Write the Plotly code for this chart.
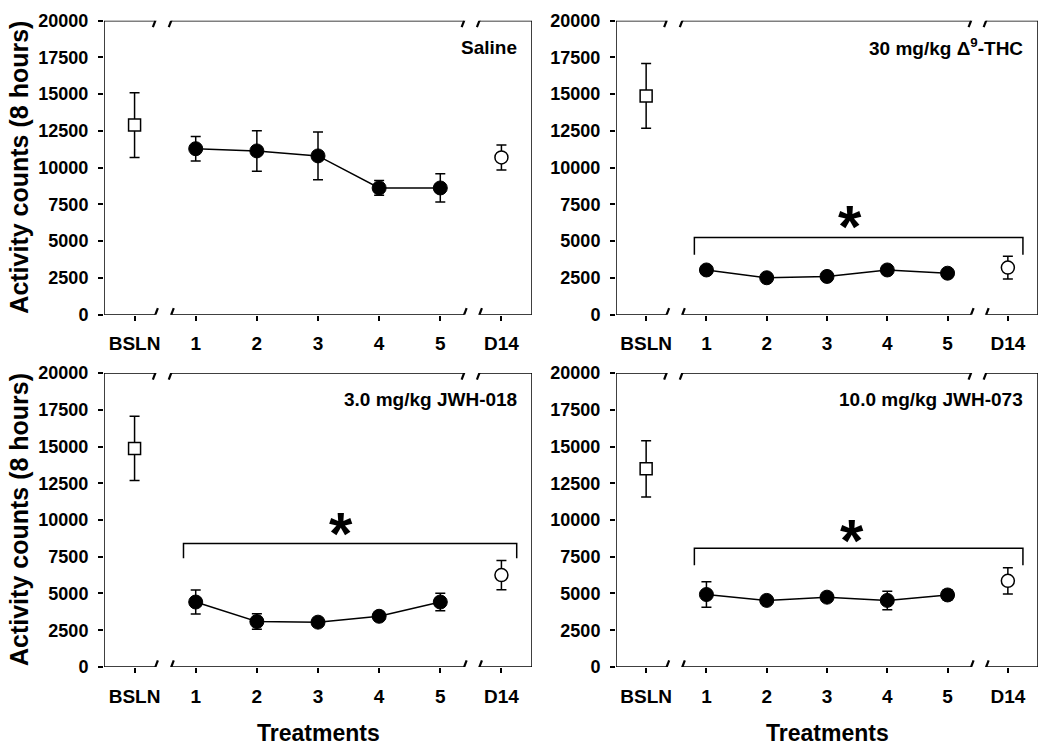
import plotly.graph_objects as go

# ---------------- data ----------------
categories = ["BSLN", "1", "2", "3", "4", "5", "D14"]
panel_labels = ["Saline", "30 mg/kg Δ<sup>9</sup>-THC", "3.0 mg/kg JWH-018", "10.0 mg/kg JWH-073"]

bsln_mean = [12900, 14880, 14870, 13480]
bsln_err = [2200, 2200, 2190, 1920]

treat_saline = [11290, 11140, 10800, 8620, 8620]
treat_saline_err = [830, 1380, 1620, 500, 960]
treat_thc = [3040, 2510, 2600, 3040, 2820]
treat_thc_err = [250, 200, 200, 250, 200]
treat_jwh018 = [4420, 3090, 3050, 3450, 4420]
treat_jwh018_err = [820, 530, 220, 220, 600]
treat_jwh073 = [4930, 4530, 4750, 4530, 4900]
treat_jwh073_err = [870, 220, 220, 630, 350]

d14_mean = [10700, 3200, 6250, 5860]
d14_err = [850, 770, 1000, 900]

# significance brackets (None for saline)
bracket_x = [0.8, 6.25]
bracket_top = [None, 5250, 8400, 8070]
bracket_leg = [None, 4080, 7400, 6920]
star_x = [None, 3.38, 3.37, 3.41]
star_y = [None, 6840, 9880, 9440]

y_ticks = [0, 2500, 5000, 7500, 10000, 12500, 15000, 17500, 20000]
y_ticktext = [str(v) for v in y_ticks]

treat_means = [treat_saline, treat_thc, treat_jwh018, treat_jwh073]
treat_errs = [treat_saline_err, treat_thc_err, treat_jwh018_err, treat_jwh073_err]

# ---------------- layout helpers ----------------
W, H = 1050, 749
FONT = "Liberation Sans, Arial, Helvetica, sans-serif"
x_domains = [(104 / W, 532 / W), (616 / W, 1038 / W)]
y_domains = [(1 - 313 / H, 1 - 11 / H), (1 - 675 / H, 1 - 373 / H)]
breaks = [(0.34, 0.60), (5.39, 5.64)]
XR = [-0.5, 6.5]
YR = [0, 20000]

fig = go.Figure()
shapes = []
annotations = []

for i in range(4):
    row, col = divmod(i, 2)
    n = i + 1
    xa = "x" if n == 1 else f"x{n}"
    ya = "y" if n == 1 else f"y{n}"
    xkey = "xaxis" if n == 1 else f"xaxis{n}"
    ykey = "yaxis" if n == 1 else f"yaxis{n}"

    fig.update_layout(**{
        xkey: dict(domain=list(x_domains[col]), anchor=ya, range=XR,
                   tickmode="array", tickvals=list(range(len(categories))), ticktext=categories,
                   ticks="outside", ticklen=5, tickwidth=1.5, tickcolor="black",
                   showline=False, showgrid=False, zeroline=False, ticklabelstandoff=7,
                   tickfont=dict(family=FONT, size=19, color="black", weight="bold")),
        ykey: dict(domain=list(y_domains[row]), anchor=xa, range=YR,
                   tickmode="array", tickvals=y_ticks, ticktext=y_ticktext,
                   ticks="outside", ticklen=5, tickwidth=1.5, tickcolor="black",
                   showline=False, showgrid=False, zeroline=False, ticklabelstandoff=6,
                   tickfont=dict(family=FONT, size=18, color="black", weight="bold")),
    })

    # baseline
    fig.add_trace(go.Scatter(
        x=[0], y=[bsln_mean[i]], xaxis=xa, yaxis=ya, mode="markers",
        marker=dict(symbol="square", size=12, color="white", line=dict(color="black", width=1.5)),
        error_y=dict(type="data", array=[bsln_err[i]], color="black", thickness=1.5, width=5),
        showlegend=False, hoverinfo="skip"))
    # treatments
    fig.add_trace(go.Scatter(
        x=[1, 2, 3, 4, 5], y=treat_means[i], xaxis=xa, yaxis=ya, mode="lines+markers",
        line=dict(color="black", width=1.5),
        marker=dict(symbol="circle", size=14, color="black", line=dict(color="black", width=1)),
        error_y=dict(type="data", array=treat_errs[i], color="black", thickness=1.5, width=5),
        showlegend=False, hoverinfo="skip"))
    # day 14
    fig.add_trace(go.Scatter(
        x=[6], y=[d14_mean[i]], xaxis=xa, yaxis=ya, mode="markers",
        marker=dict(symbol="circle", size=13, color="white", line=dict(color="black", width=1.5)),
        error_y=dict(type="data", array=[d14_err[i]], color="black", thickness=1.5, width=5),
        showlegend=False, hoverinfo="skip"))

    # bracket + star
    if bracket_top[i] is not None:
        fig.add_trace(go.Scatter(
            x=[bracket_x[0], bracket_x[0], bracket_x[1], bracket_x[1]],
            y=[bracket_leg[i], bracket_top[i], bracket_top[i], bracket_leg[i]],
            xaxis=xa, yaxis=ya, mode="lines", line=dict(color="black", width=1.5),
            showlegend=False, hoverinfo="skip"))
        annotations.append(dict(x=star_x[i], y=star_y[i], xref=xa, yref=ya, text="*",
                                showarrow=False, yanchor="middle", yshift=-12,
                                font=dict(family=FONT, size=60, color="black", weight="bold")))

    # frame: left / right full lines
    for xv in XR:
        shapes.append(dict(type="line", xref=xa, yref=ya, x0=xv, x1=xv, y0=YR[0], y1=YR[1],
                           line=dict(color="black", width=1.5)))
    # top / bottom with breaks
    segs = [(XR[0], breaks[0][0]), (breaks[0][1], breaks[1][0]), (breaks[1][1], XR[1])]
    for yv in YR:
        for a, b in segs:
            shapes.append(dict(type="line", xref=xa, yref=ya, x0=a, x1=b, y0=yv, y1=yv,
                               line=dict(color="black", width=1.5)))
        for br in breaks:
            for xb in br:
                shapes.append(dict(type="line", xref=xa, yref=ya,
                                   xsizemode="pixel", xanchor=xb, x0=-2.5, x1=2.5,
                                   ysizemode="pixel", yanchor=yv, y0=-6.5, y1=6.5,
                                   line=dict(color="black", width=2.2)))

    # panel label
    annotations.append(dict(x=1, y=0.91, xref=f"{xa} domain", yref=f"{ya} domain",
                            text=panel_labels[i], showarrow=False, xanchor="right", yanchor="middle",
                            xshift=-13,
                            font=dict(family=FONT, size=19, color="black", weight="bold")))

# axis titles
for row in range(2):
    yc = (y_domains[row][0] + y_domains[row][1]) / 2
    annotations.append(dict(x=19 / W, y=yc, xref="paper", yref="paper", text="Activity counts (8 hours)",
                            textangle=-90, showarrow=False, xanchor="center", yanchor="middle",
                            font=dict(family=FONT, size=25, color="black", weight="bold")))
for col in range(2):
    xc = (x_domains[col][0] + x_domains[col][1]) / 2
    annotations.append(dict(x=xc, y=1 - 737 / H, xref="paper", yref="paper", text="Treatments",
                            showarrow=False, xanchor="center", yanchor="middle", yshift=-6,
                            font=dict(family=FONT, size=23, color="black", weight="bold")))

fig.update_layout(width=W, height=H, margin=dict(l=0, r=0, t=0, b=0),
                  paper_bgcolor="white", plot_bgcolor="white",
                  shapes=shapes, annotations=annotations, showlegend=False)

fig.write_html("out.html", config={"displayModeBar": False},
               post_script="document.body.style.margin='0';")
